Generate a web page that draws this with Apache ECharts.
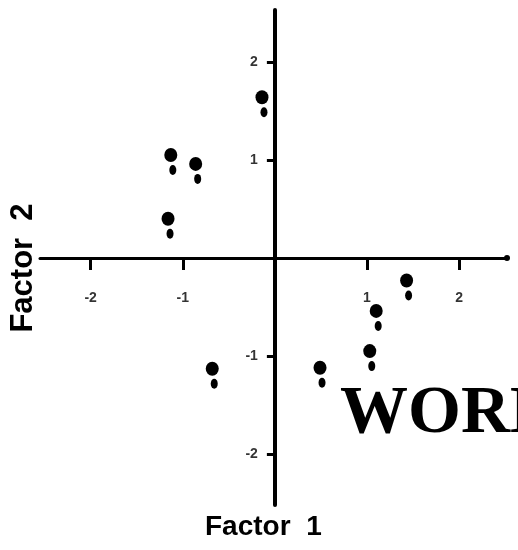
<!DOCTYPE html>
<html>
<head>
<meta charset="utf-8">
<script src="https://cdn.jsdelivr.net/npm/echarts@6/dist/echarts.min.js"></script>
<style>
html,body{margin:0;padding:0;background:#fff;}
#chart{width:518px;height:550px;}
</style>
</head>
<body>
<div id="chart"></div>
<script>
// Factor scores
var factor1 = [-0.14, -1.13, -0.86, -1.16, 1.43, 1.10, 1.03, 0.49, -0.68];
var factor2 = [1.64, 1.05, 0.96, 0.40, -0.23, -0.54, -0.95, -1.12, -1.13];
var xTicks = [-2, -1, 1, 2];
var yTicks = [-2, -1, 1, 2];
var xTitle = 'Factor  1';
var yTitle = 'Factor  2';
var stamp = 'WORK';

var points = factor1.map(function (x, i) { return [x, factor2[i]]; });
var xTickPts = xTicks.map(function (v) { return [v, 0]; });
var yTickPts = yTicks.map(function (v) { return [0, v]; });

var chart = echarts.init(document.getElementById('chart'), null, { renderer: 'canvas' });
var labelFont = { color: '#000', fontSize: 14, fontWeight: 'bold', fontFamily: 'Liberation Sans, Arial, sans-serif' };
chart.setOption({
  animation: false,
  backgroundColor: '#fff',
  grid: { left: 40, right: 11, top: 10, bottom: 45, outerBoundsMode: 'none', containLabel: false },
  xAxis: {
    type: 'value', min: -2.55, max: 2.52,
    splitLine: { show: false },
    axisLine: { onZero: true, symbol: ['none', 'circle'], symbolSize: [6, 6],
      lineStyle: { color: '#000', width: 3 } },
    axisTick: { customValues: xTicks, length: 12, lineStyle: { color: '#000', width: 3 } },
    axisLabel: { show: false }
  },
  yAxis: {
    type: 'value', min: -2.52, max: 2.53,
    splitLine: { show: false },
    axisLine: { onZero: true, lineStyle: { color: '#000', width: 4 } },
    axisTick: { customValues: yTicks, length: 8, lineStyle: { color: '#000', width: 3 } },
    axisLabel: { show: false }
  },
  series: [
    {
      type: 'scatter', data: points, symbol: 'circle', symbolSize: [13, 14],
      itemStyle: { color: '#000', opacity: 1 }, z: 3
    },
    {
      type: 'scatter', data: points, symbol: 'circle', symbolSize: [7, 10],
      symbolOffset: [2, 15], itemStyle: { color: '#000', opacity: 1 }, z: 3
    },
    {
      type: 'scatter', data: xTickPts, symbolSize: 0, silent: true,
      label: Object.assign({ show: true, position: 'bottom', distance: 33,
        formatter: function (p) { return String(p.value[0]); } }, labelFont)
    },
    {
      type: 'scatter', data: yTickPts, symbolSize: 0, silent: true,
      label: Object.assign({ show: true, position: 'left', distance: 17,
        formatter: function (p) { return String(p.value[1]); } }, labelFont)
    }
  ],
  graphic: [
    { type: 'text', left: 205, top: 513,
      style: { text: xTitle, fill: '#000', font: 'bold 28px "Liberation Sans", Arial, sans-serif' } },
    { type: 'text', x: 39, y: 268, rotation: Math.PI / 2, origin: [0, 0],
      style: { text: yTitle, fill: '#000', align: 'center', verticalAlign: 'bottom',
        font: 'bold 31px "Liberation Sans", Arial, sans-serif' } },
    { type: 'text', left: 340, top: 380,
      style: { text: stamp, fill: '#000', font: 'bold 68px "Liberation Serif", "Times New Roman", serif' } }
  ]
});
</script>
</body>
</html>
